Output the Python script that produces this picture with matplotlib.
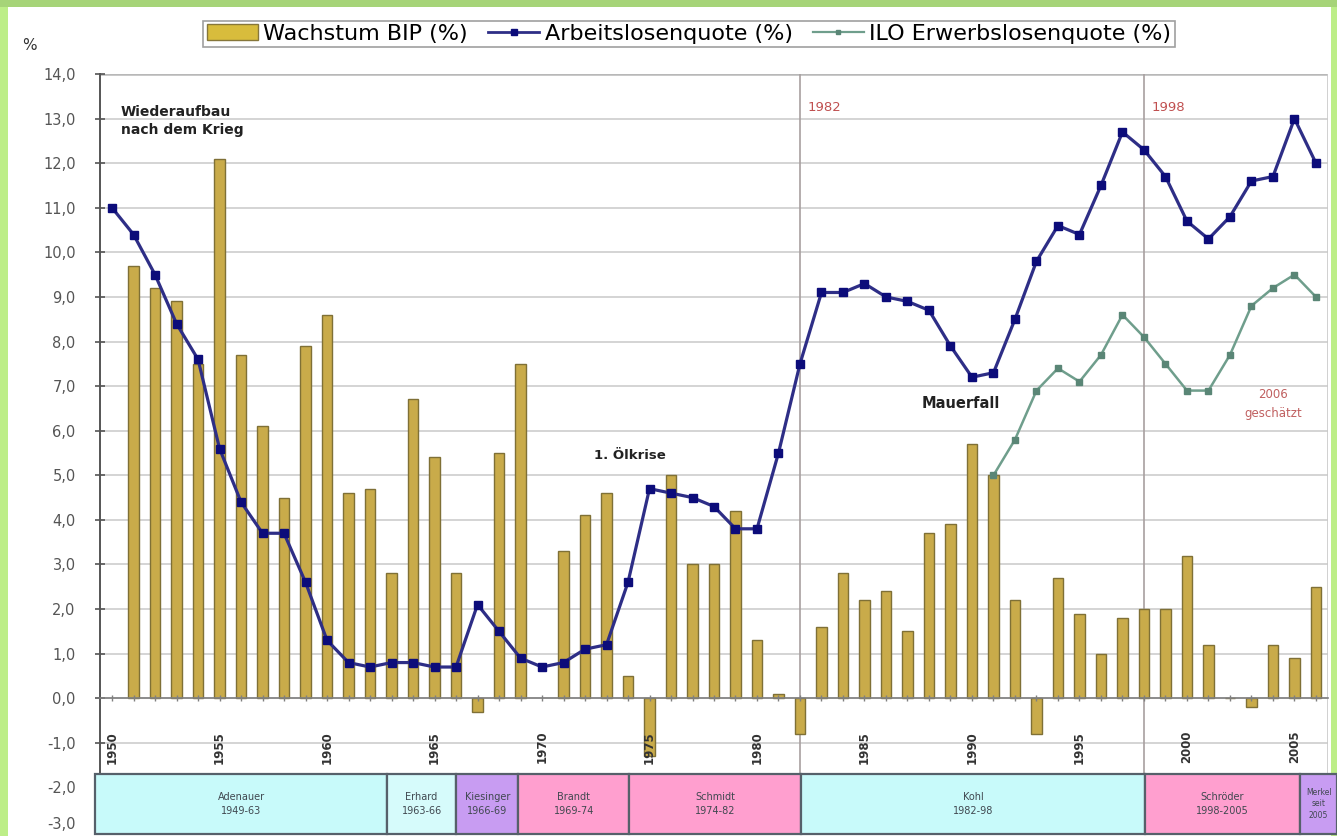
import numpy as np
import matplotlib
matplotlib.use("Agg")
import matplotlib.pyplot as plt
from matplotlib.patches import Rectangle, Patch
from matplotlib.lines import Line2D

plt.rcParams['font.family'] = ['DejaVu Sans']

# data (West Germany / Germany 1950-2006)
years = list(range(1950, 2007))
arbeitslos = [11.0, 10.4, 9.5, 8.4, 7.6, 5.6, 4.4, 3.7, 3.7, 2.6,
              1.3, 0.8, 0.7, 0.8, 0.8, 0.7, 0.7, 2.1, 1.5, 0.9,
              0.7, 0.8, 1.1, 1.2, 2.6, 4.7, 4.6, 4.5, 4.3, 3.8,
              3.8, 5.5, 7.5, 9.1, 9.1, 9.3, 9.0, 8.9, 8.7, 7.9,
              7.2, 7.3, 8.5, 9.8, 10.6, 10.4, 11.5, 12.7, 12.3, 11.7,
              10.7, 10.3, 10.8, 11.6, 11.7, 13.0, 12.0]
bip = [np.nan, 9.7, 9.2, 8.9, 7.5, 12.1, 7.7, 6.1, 4.5, 7.9,
       8.6, 4.6, 4.7, 2.8, 6.7, 5.4, 2.8, -0.3, 5.5, 7.5,
       np.nan, 3.3, 4.1, 4.6, 0.5, -1.3, 5.0, 3.0, 3.0, 4.2,
       1.3, 0.1, -0.8, 1.6, 2.8, 2.2, 2.4, 1.5, 3.7, 3.9,
       5.7, 5.0, 2.2, -0.8, 2.7, 1.9, 1.0, 1.8, 2.0, 2.0,
       3.2, 1.2, 0.0, -0.2, 1.2, 0.9, 2.5]
ilo_years = list(range(1991, 2007))
ilo = [5.0, 5.8, 6.9, 7.4, 7.1, 7.7, 8.6, 8.1, 7.5, 6.9, 6.9, 7.7, 8.8, 9.2, 9.5, 9.0]

label_years = list(range(1950, 2006, 5))
wende_years = [1982, 1998]

kanzler = ['Adenauer\n1949-63', 'Erhard\n1963-66', 'Kiesinger\n1966-69', 'Brandt\n1969-74',
           'Schmidt\n1974-82', 'Kohl\n1982-98', 'Schröder\n1998-2005', 'Merkel\nseit\n2005']
kanzler_grenzen = [1949.2, 1962.8, 1966.0, 1968.9, 1974.05, 1982.05, 1998.05, 2005.25, 2007.0]
kanzler_farben = ['#c8fafa', '#d6fbfb', '#c89cf2', '#ff9fcf', '#ff9fcf', '#c8fafa', '#ff9fcf', '#c89cf2']

fig = plt.figure(figsize=(13.37, 8.36), dpi=100)
fig.patch.set_facecolor('#bdee88')
fig.add_artist(Rectangle((8 / 1337, 0), 1323 / 1337, 829 / 836, transform=fig.transFigure,
                         facecolor='white', edgecolor='none', zorder=0))
fig.add_artist(Rectangle((0, 829 / 836), 1, 7 / 836, transform=fig.transFigure,
                         facecolor='#a6d478', edgecolor='none', zorder=0))

ax = fig.add_axes([100 / 1337, 4 / 836, 1228 / 1337, 758 / 836])
ax.set_facecolor('none')
ax.set_xlim(1949.44, 2006.56)
ax.set_ylim(-3, 14)

# grid
for y in np.arange(-3, 15, 1.0):
    ax.axhline(y, color='#d4d4d4', lw=1.4, zorder=0)
ax.axhline(14, color='#b8b8b8', lw=1.8, zorder=0)
ax.axvline(2006.56, color='#c8c8c8', lw=1.2, zorder=0)

# bars
ax.bar(years, bip, width=0.48, facecolor='#c9ab4a', edgecolor='#7f7036', linewidth=1.0, zorder=2)

# Wende lines
ax.vlines(wende_years, -1.7, 14, color='#a8a0a0', lw=1.2, zorder=1)
for w in wende_years:
    ax.text(w + 0.35, 13.25, str(w), color='#c05050', fontsize=9.5, va='center', zorder=5)

# lines
ax.plot(years, arbeitslos, color='#2e2e86', lw=2.3, marker='s', ms=6,
        mfc='#0c0c7a', mec='#0c0c7a', zorder=4)
ax.plot(ilo_years, ilo, color='#6f9e8c', lw=1.8, marker='s', ms=4,
        mfc='#5a8676', mec='#5a8676', zorder=4)

# chancellor boxes
for i, name in enumerate(kanzler):
    x0, x1 = kanzler_grenzen[i], kanzler_grenzen[i + 1]
    fs = 7 if i < len(kanzler) - 1 else 5.5
    ax.add_patch(Rectangle((x0, -3.05), x1 - x0, 1.35, facecolor=kanzler_farben[i],
                           edgecolor='#56606a', lw=1.6, zorder=3, clip_on=False))
    ax.text((x0 + x1) / 2, -2.37, name, ha='center', va='center', fontsize=fs,
            color='#404850', linespacing=1.4, zorder=4, clip_on=False)

# annotations
ax.text(1950.4, 12.95, 'Wiederaufbau\nnach dem Krieg', fontsize=10, fontweight='bold',
        va='center', ha='left', color='#222222', linespacing=1.4, zorder=5)
ax.text(1974.1, 5.45, '1. Ölkrise', fontsize=9.5, fontweight='bold', ha='center', va='center',
        color='#222222', zorder=5)
ax.text(1989.5, 6.6, 'Mauerfall', fontsize=10.5, fontweight='bold', ha='center', va='center',
        color='#222222', zorder=5)
ax.text(2004.0, 6.6, '2006\ngeschätzt', fontsize=8.5, ha='center', va='center',
        color='#c06060', linespacing=1.6, zorder=5)

# axes styling
for s in ['top', 'right']:
    ax.spines[s].set_visible(False)
ax.spines['bottom'].set_position(('data', 0))
ax.spines['bottom'].set_color('#808080')
ax.spines['bottom'].set_linewidth(1.2)
ax.spines['left'].set_color('#555555')
ax.spines['left'].set_linewidth(1.4)
ax.spines['left'].set_bounds(-1.7, 14)
ax.xaxis.set_zorder(5)

yt = np.arange(-3, 15, 1.0)
ax.set_yticks(yt)
ax.set_yticklabels([f'{v:.1f}'.replace('.', ',') for v in yt], fontsize=10.5, color='#555555')
ax.tick_params(axis='y', direction='inout', length=7, width=1.2, color='#555555', pad=14)
ax.get_yticklabels()[0].set_verticalalignment('bottom')

ax.set_xticks(years)
ax.set_xticklabels([str(y) if y in label_years else '' for y in years],
                   rotation=90, fontsize=8.5, fontweight='bold', color='#333333')
ax.tick_params(axis='x', direction='inout', length=5, width=1.0, color='#808080', pad=21)

fig.text(22 / 1337, 1 - 45 / 836, '%', fontsize=11, color='#333333', va='center')

handles = [Patch(facecolor='#d8bc3c', edgecolor='#86763a'),
           Line2D([], [], color='#2e2e86', lw=2, marker='s', ms=5, mfc='#0c0c7a', mec='#0c0c7a'),
           Line2D([], [], color='#6f9e8c', lw=1.6, marker='s', ms=3, mfc='#5a8676', mec='#5a8676')]
leg = fig.legend(handles, ['Wachstum BIP (%)', 'Arbeitslosenquote (%)', 'ILO Erwerbslosenquote (%)'],
                 loc='center', bbox_to_anchor=(689 / 1337, 1 - 34 / 836), ncol=3, fontsize=16,
                 frameon=True, fancybox=False, edgecolor='#888888', handlelength=2.3,
                 columnspacing=0.9, handletextpad=0.25, borderpad=0.15)
leg.get_frame().set_linewidth(1.2)

fig.savefig('out.png', dpi=100, facecolor=fig.get_facecolor())
